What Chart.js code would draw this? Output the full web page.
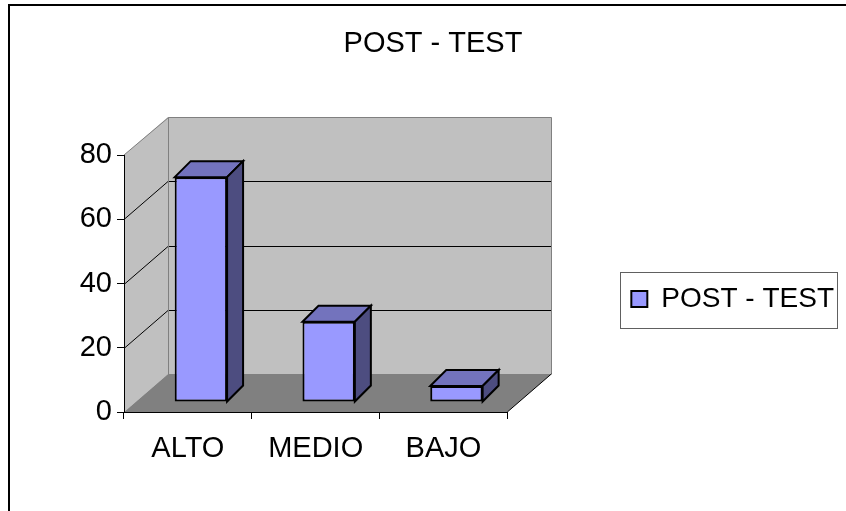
<!DOCTYPE html>
<html>
<head>
<meta charset="utf-8">
<script src="https://cdn.jsdelivr.net/npm/chart.js@4.4.1/dist/chart.umd.min.js"></script>
<style>
html, body { margin: 0; padding: 0; background: #fff; }
#wrap { position: absolute; left: 0; top: 0; width: 846px; height: 511px; overflow: hidden; }
#frame { position: absolute; left: 8px; top: 4px; width: 900px; height: 600px; border-top: 2px solid #000; border-left: 2px solid #000; }
canvas { position: absolute; left: 0; top: 0; }
</style>
</head>
<body>
<div id="wrap">
  <div id="frame"></div>
  <canvas id="chart" width="846" height="511"></canvas>
</div>
<script>
const categories = ['ALTO', 'MEDIO', 'BAJO'];
const postTest = [70, 25, 5];
const yTicks = [0, 20, 40, 60, 80];
const seriesName = 'POST - TEST';
const chartTitle = 'POST - TEST';

const FONT = 'Liberation Sans, Arial, sans-serif';
// oblique depth of the walls/floor, and of the bars
const WALL_DX = 44, WALL_DY = -38;
const BAR_SHIFT_X = 13, BAR_SHIFT_Y = -10;
const BAR_DX = 16, BAR_DY = -16;

function poly(ctx, pts, fill, stroke, lw) {
  ctx.beginPath();
  ctx.moveTo(pts[0][0], pts[0][1]);
  for (let i = 1; i < pts.length; i++) ctx.lineTo(pts[i][0], pts[i][1]);
  ctx.closePath();
  if (fill) { ctx.fillStyle = fill; ctx.fill(); }
  if (stroke) { ctx.strokeStyle = stroke; ctx.lineWidth = lw || 1; ctx.stroke(); }
}
function seg(ctx, x1, y1, x2, y2) {
  ctx.beginPath(); ctx.moveTo(x1, y1); ctx.lineTo(x2, y2); ctx.stroke();
}

const box3d = {
  id: 'box3d',
  beforeDraw(chart) {
    const {ctx, chartArea: a, scales: {y}} = chart;
    const L = a.left, R = a.right, T = a.top, B = a.bottom;
    ctx.save();
    ctx.fillStyle = '#c0c0c0';
    ctx.fillRect(L + WALL_DX, T + WALL_DY, R - L, B - T);
    poly(ctx, [[L, T], [L + WALL_DX, T + WALL_DY], [L + WALL_DX, B + WALL_DY], [L, B]], '#c0c0c0');
    poly(ctx, [[L, B], [L + WALL_DX, B + WALL_DY], [R + WALL_DX, B + WALL_DY], [R, B]], '#808080');

    ctx.strokeStyle = '#000';
    ctx.lineWidth = 1;
    yTicks.slice(1, -1).forEach(v => {
      const py = Math.round(y.getPixelForValue(v)) + 0.5;
      seg(ctx, L, py, L + WALL_DX, py + WALL_DY);
      seg(ctx, L + WALL_DX, py + WALL_DY, R + WALL_DX, py + WALL_DY);
    });
    // wall edges
    ctx.strokeStyle = '#808080';
    const bx = Math.round(L + WALL_DX) + 0.5, bx2 = Math.round(R + WALL_DX) + 0.5;
    const by = Math.round(T + WALL_DY) + 0.5, by2 = Math.round(B + WALL_DY) + 0.5;
    seg(ctx, bx, by, bx2, by);
    seg(ctx, bx2, by, bx2, by2);
    seg(ctx, bx, by, bx, by2);
    seg(ctx, L, T, bx, by);
    // floor right edge
    ctx.strokeStyle = '#000';
    seg(ctx, R, B, R + WALL_DX, B + WALL_DY);
    ctx.restore();
  },
  beforeDatasetsDraw(chart) {
    chart.ctx.save();
    chart.ctx.translate(BAR_SHIFT_X, BAR_SHIFT_Y);
  },
  afterDatasetsDraw(chart) {
    const ctx = chart.ctx;
    ctx.lineJoin = 'miter';
    chart.getDatasetMeta(0).data.forEach(bar => {
      const {x, y, base, width} = bar.getProps(['x', 'y', 'base', 'width'], true);
      const x0 = x - width / 2, x1 = x + width / 2;
      poly(ctx, [[x0, y], [x0 + BAR_DX, y + BAR_DY], [x1 + BAR_DX, y + BAR_DY], [x1, y]], '#7373bd', '#000', 2);
      poly(ctx, [[x1, y], [x1 + BAR_DX, y + BAR_DY], [x1 + BAR_DX, base + BAR_DY], [x1, base]], '#4d4d80', '#000', 2);
    });
    ctx.restore();
  },
  afterDraw(chart) {
    const hb = chart.legend && chart.legend.legendHitBoxes && chart.legend.legendHitBoxes[0];
    if (!hb) return;
    const ctx = chart.ctx;
    const cy = hb.top + hb.height / 2;
    ctx.save();
    ctx.strokeStyle = '#606060';
    ctx.lineWidth = 1;
    ctx.strokeRect(Math.round(hb.left - 11) + 0.5, Math.round(cy - 27) + 0.5, 217, 56);
    ctx.restore();
  }
};

new Chart(document.getElementById('chart'), {
  type: 'bar',
  data: {
    labels: categories,
    datasets: [{
      label: seriesName,
      data: postTest,
      backgroundColor: '#9999ff',
      borderColor: '#000',
      borderWidth: 2,
      borderSkipped: false,
      barPercentage: 0.41,
      categoryPercentage: 1,
      clip: false
    }]
  },
  options: {
    responsive: false,
    animation: false,
    devicePixelRatio: 1,
    layout: { padding: { left: 22, right: 2, top: 87, bottom: 0 } },
    scales: {
      x: {
        afterFit: s => { s.height = 99; },
        grid: { drawOnChartArea: false, tickLength: 7, color: '#000', offset: true },
        border: { display: true, color: '#000', width: 1 },
        ticks: { color: '#000', padding: 13, maxRotation: 0, font: { family: FONT, size: 29 } }
      },
      y: {
        min: yTicks[0],
        max: yTicks[yTicks.length - 1],
        afterFit: s => { s.width = 102; },
        grid: { drawOnChartArea: false, tickLength: 7, color: '#000' },
        border: { display: true, color: '#000', width: 1 },
        ticks: { stepSize: yTicks[1] - yTicks[0], color: '#000', padding: 5, font: { family: FONT, size: 29 } }
      }
    },
    plugins: {
      title: {
        display: true,
        text: chartTitle,
        color: '#000',
        font: { family: FONT, size: 29, weight: 'normal' },
        padding: { top: -60, bottom: 93.2 }
      },
      legend: {
        position: 'right',
        align: 'center',
        fullSize: true,
        maxWidth: 400,
        labels: { boxWidth: 16, boxHeight: 16, padding: 124, color: '#000', font: { family: FONT, size: 28 } }
      },
      tooltip: { enabled: false }
    }
  },
  plugins: [box3d]
});
</script>
</body>
</html>
